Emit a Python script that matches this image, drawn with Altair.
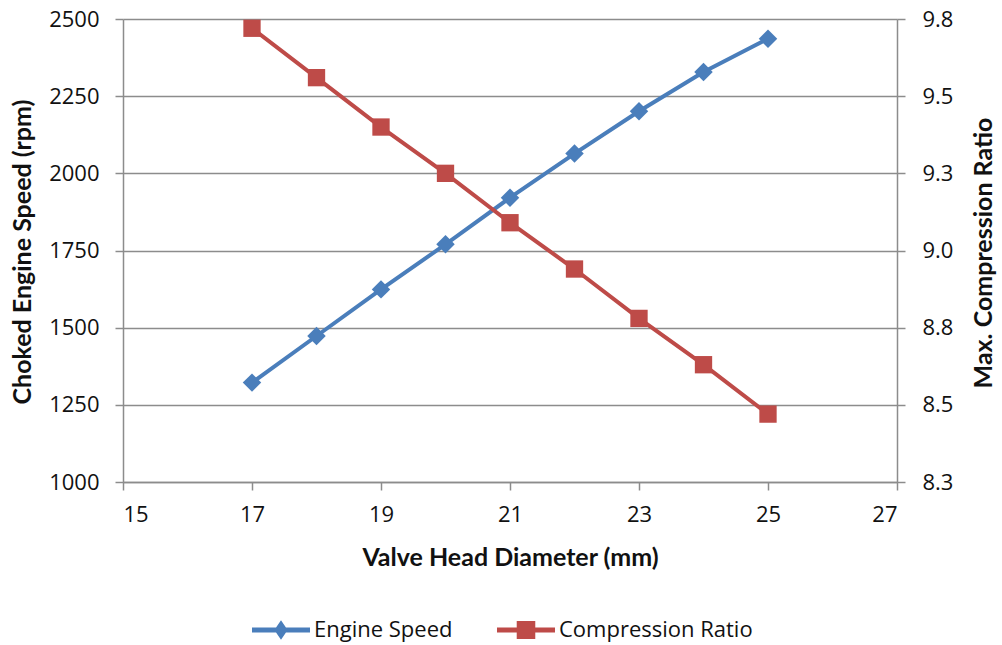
import altair as alt
import pandas as pd

# ---- data ----
diameter = [17, 18, 19, 20, 21, 22, 23, 24, 25]
engine_speed = [1322, 1473, 1624, 1770, 1921, 2064, 2201, 2328, 2436]
compression_ratio = [9.72, 9.56, 9.40, 9.25, 9.09, 8.94, 8.78, 8.63, 8.47]

x_ticks = [15, 17, 19, 21, 23, 25, 27]
speed_ticks = [1000, 1250, 1500, 1750, 2000, 2250, 2500]
ratio_ticks = [8.25, 8.5, 8.75, 9.0, 9.25, 9.5, 9.75]

series_names = ["Engine Speed", "Compression Ratio"]
series_colors = ["#4a7ebb", "#be4b48"]

df = pd.DataFrame({"d": diameter, "speed": engine_speed, "ratio": compression_ratio})
legend_df = pd.DataFrame({"series": series_names})

FONT = "Open Sans"
TITLE_FONT = "Lato"
GRAY = "#8c8c8c"
TEXT = "#111111"

color_scale = alt.Scale(domain=series_names, range=series_colors)

diamond_path = "M-1,-0.085H1V0.085H-1Z M0,-0.34L0.23,0L0,0.34L-0.23,0Z"
square_path = "M-1,-0.085H1V0.085H-1Z M-0.32,-0.31H0.32V0.31H-0.32Z"
shape_scale = alt.Scale(domain=series_names, range=[diamond_path, square_path])

legend = alt.Legend(
    orient="none",
    legendX=129,
    legendY=582,
    direction="horizontal",
    title=None,
    symbolSize=3364,
    symbolOpacity=1,
    symbolStrokeWidth=0,
    labelFont=FONT,
    labelFontSize=22,
    labelColor=TEXT,
    labelOffset=4,
    labelLimit=400,
    columnPadding=44,
    padding=0,
)

x_enc = alt.X(
    "d:Q",
    scale=alt.Scale(domain=[15, 27], nice=False),
    axis=alt.Axis(
        values=x_ticks,
        title="Valve Head Diameter (mm)",
        grid=False,
        labelPadding=14,
        titleY=75,
        titleBaseline="middle",
    ),
)

base = alt.Chart(df)

speed = base.mark_line(
    strokeWidth=4,
    color=series_colors[0],
    point=alt.OverlayMarkDef(shape="diamond", size=340, filled=True, opacity=1, color=series_colors[0]),
).encode(
    x=x_enc,
    y=alt.Y(
        "speed:Q",
        scale=alt.Scale(domain=[1000, 2500], nice=False, zero=False),
        axis=alt.Axis(
            orient="left",
            values=speed_ticks,
            format="d",
            title="Choked Engine Speed (rpm)",
            grid=True,
            labelPadding=16,
            titleX=-101,
            titleY=232.5,
            titleAngle=270,
            titleBaseline="middle",
        ),
    ),
)

ratio = base.mark_line(
    strokeWidth=4,
    color=series_colors[1],
    point=alt.OverlayMarkDef(shape="square", size=300, filled=True, opacity=1, color=series_colors[1]),
).encode(
    x=x_enc,
    y=alt.Y(
        "ratio:Q",
        scale=alt.Scale(domain=[8.25, 9.75], nice=False, zero=False),
        axis=alt.Axis(
            orient="right",
            values=ratio_ticks,
            format=".1f",
            title="Max. Compression Ratio",
            grid=False,
            labelPadding=17,
            titleX=86,
            titleY=233.5,
            titleAngle=270,
            titleBaseline="middle",
        ),
    ),
)

legend_layer = alt.Chart(legend_df).mark_point(filled=True, opacity=0, size=3364).encode(
    color=alt.Color("series:N", scale=color_scale, legend=legend),
    shape=alt.Shape("series:N", scale=shape_scale, legend=legend),
)

chart = (
    alt.layer(speed, ratio, legend_layer)
    .resolve_scale(y="independent")
    .properties(
        width=774,
        height=463,
        autosize=alt.AutoSizeParams(type="none"),
        padding={"left": 123, "top": 19, "right": 105, "bottom": 163},
        background="white",
    )
    .configure_view(stroke="transparent")
    .configure_axis(
        labelFont=FONT,
        labelFontSize=22,
        labelColor=TEXT,
        titleFont=TITLE_FONT,
        titleFontSize=25,
        titleFontWeight="bold",
        titleColor=TEXT,
        domainColor=GRAY,
        domainWidth=1.5,
        tickColor=GRAY,
        tickWidth=1.5,
        tickSize=8,
        gridColor=GRAY,
        gridWidth=1.5,
        gridOpacity=1,
    )
)

chart.save("out.html", embed_options={"renderer": "svg", "actions": False})
